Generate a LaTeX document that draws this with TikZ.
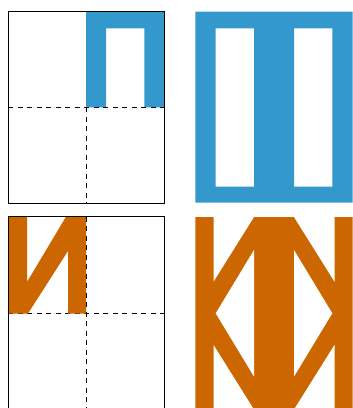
\documentclass[tikz,border=0pt]{standalone}
\definecolor{qblue}{RGB}{51,153,204}
\definecolor{qorange}{RGB}{204,102,0}
\begin{document}
\begin{tikzpicture}[x=1pt,y=-1pt,
  frame/.style={draw=black,line width=1pt},
  gridline/.style={draw=black,line width=1pt,dash pattern=on 5pt off 4.5pt},
  bluefill/.style={fill=qblue,even odd rule},
  orangefill/.style={fill=qorange},
  holefill/.style={fill=white}]
\useasboundingbox (0,0) rectangle (353,408);
\begin{scope}
\clip (0,0) rectangle (353,408);
% ---- top left panel
\fill[bluefill] (86,107.3) -- (86,11.7) -- (164,11.7) -- (164,107.3) -- (144.3,107.3)
  -- (144.3,28.3) -- (106,28.3) -- (106,107.3) -- cycle;
\draw[frame] (8.3,11.7) rectangle (164,203.3);
\draw[gridline] (8.3,107.3) -- (164,107.3);
\draw[gridline] (86,107.3) -- (86,203.3);
% ---- top right panel
\fill[bluefill] (195.3,11.7) rectangle (352.7,202.7)
  (215.7,28.3) rectangle (254,186.7)
  (294,28.3) rectangle (332.3,186.7);
% ---- bottom left panel
\draw[gridline] (8.3,313.5) -- (164.3,313.5);
\fill[orangefill] (8.3,216.7) -- (27,216.7) -- (27,282) -- (66,216.7) -- (86,216.7)
  -- (86,313.5) -- (68,313.5) -- (68,251) -- (28,313.5) -- (8.3,313.5) -- cycle;
\draw[frame] (8.3,216.7) -- (164.3,216.7) -- (164.3,420);
\draw[frame] (8.3,216.7) -- (8.3,420);
\draw[gridline] (86,216.7) -- (86,420);
\end{scope}
% ---- bottom right panel
\begin{scope}
\clip (195.3,216.7) rectangle (352.7,408);
\fill[orangefill] (195.3,216.7) rectangle (352.7,420);
\fill[holefill] (213.5,210) -- (258.4,210) -- (213.5,281.7) -- cycle
  (289.6,210) -- (334.5,210) -- (334.5,281.7) -- cycle
  (215.7,313.3) -- (254,250) -- (254,376.6) -- cycle
  (332.3,313.3) -- (294,250) -- (294,376.6) -- cycle
  (213.5,344.9) -- (213.5,416.6) -- (258.4,416.6) -- cycle
  (334.5,344.9) -- (334.5,416.6) -- (289.6,416.6) -- cycle;
\end{scope}
\end{tikzpicture}
\end{document}
